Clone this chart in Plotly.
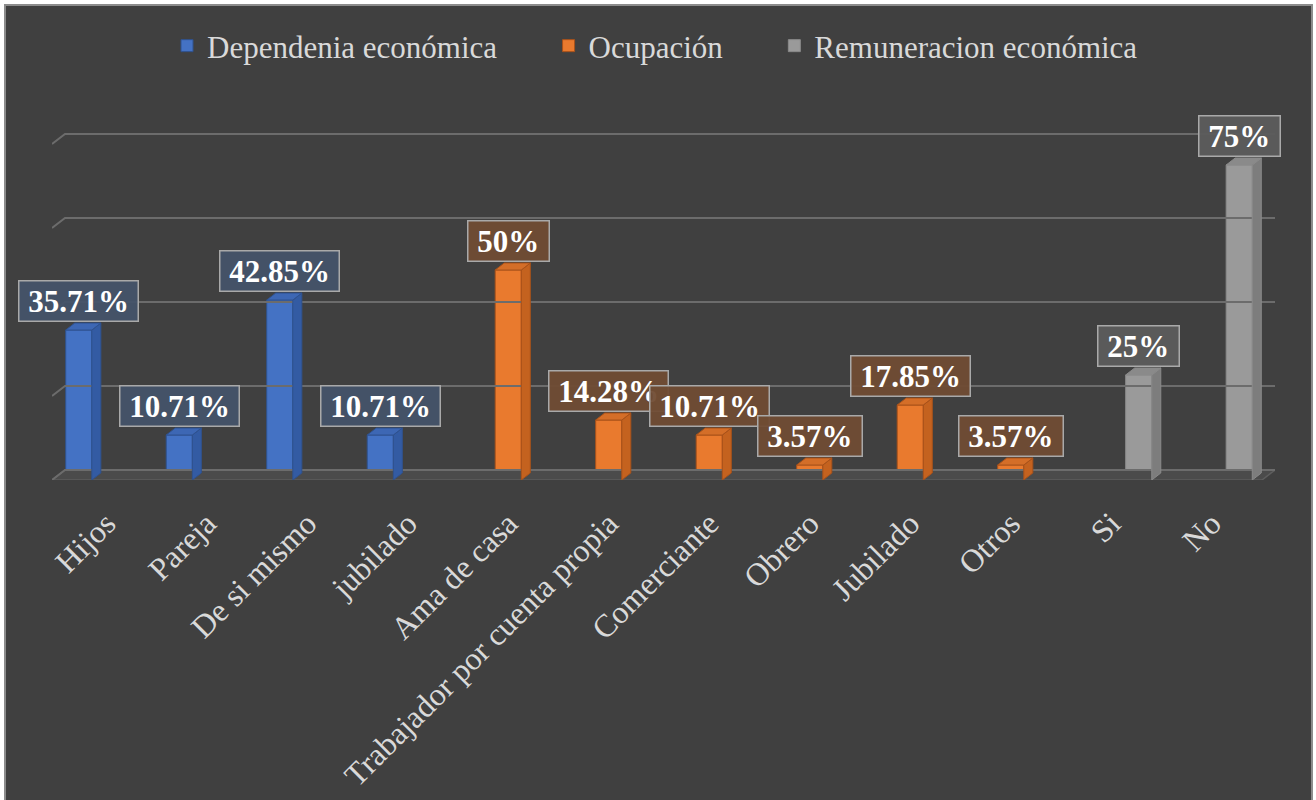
import plotly.graph_objects as go

# ---------------- data ----------------
categories = ["Hijos", "Pareja", "De si mismo", "jubilado", "Ama de casa",
              "Trabajador por cuenta propia", "Comerciante", "Obrero",
              "Jubilado", "Otros", "Si", "No"]

series_names = ["Dependenia económica", "Ocupación", "Remuneracion económica"]

dependencia_idx = [0, 1, 2, 3]
dependencia_vals = [35.71, 10.71, 42.85, 10.71]

ocupacion_idx = [4, 5, 6, 7, 8, 9]
ocupacion_vals = [50, 14.28, 10.71, 3.57, 17.85, 3.57]

remuneracion_idx = [10, 11]
remuneracion_vals = [25, 75]

grid_vals = [0, 20, 40, 60, 80]

# ---------------- style ----------------
W, H = 1316, 800
ML, MR, MT, MB = 52, 41, 128, 320
PX_PER_CAT = 100.5
PX_PER_PCT = 4.2
BG = "#404040"
TXT = "#d9d9d9"
FONT = "Liberation Serif, Times New Roman, serif"
LEGEND_PAD = "\u00a0" * 6

BARGAP, GROUPGAP = 0.18, 0.05
slot = (1 - BARGAP) / 3
half = slot * (1 - GROUPGAP) / 2
DX, DY = 9 / PX_PER_CAT, 7 / PX_PER_PCT          # bar depth
GDX, GDY = 13 / PX_PER_CAT, 10 / PX_PER_PCT      # wall depth

x0 = -0.5 - 4 / PX_PER_CAT
x1 = x0 + (W - ML - MR) / PX_PER_CAT
y1 = (H - MT - MB) / PX_PER_PCT

styles = [
    dict(front="#4472C4", side="#335ba3", top="#3d67b4", edge="#2F528F",
         box="rgba(68,84,106,0.92)"),
    dict(front="#E97A2E", side="#c4621f", top="#d46e28", edge="#A9521A",
         box="rgba(112,76,52,0.95)"),
    dict(front="#9a9a9a", side="#7d7d7d", top="#8a8a8a", edge="#8a8a8a",
         box="rgba(92,92,92,0.95)"),
]

data = [(dependencia_idx, dependencia_vals),
        (ocupacion_idx, ocupacion_vals),
        (remuneracion_idx, remuneracion_vals)]

fig = go.Figure()

# floor
fig.add_trace(go.Scatter(
    x=[x0, 11.5, x1, x0 + GDX, x0], y=[0, 0, GDY, GDY, 0],
    fill="toself", fillcolor="#4b4b4b", mode="lines",
    line=dict(color="#5e5e5e", width=1.5), showlegend=False, hoverinfo="skip"))

# gridlines on the back wall
for t in grid_vals:
    fig.add_trace(go.Scatter(
        x=[x0, x0 + GDX, x1], y=[t, t + GDY, t + GDY], mode="lines",
        line=dict(color="#6c6c6c", width=2), showlegend=False, hoverinfo="skip"))

# front faces of the bars
for k, (name, (xs, vs)) in enumerate(zip(series_names, data)):
    st = styles[k]
    off = (k - 1) * slot
    fig.add_trace(go.Bar(
        x=xs, y=vs, name=name + LEGEND_PAD,
        width=2 * half, offset=off - half,
        marker=dict(color=st["front"], line=dict(color=st["edge"], width=1)),
        hovertemplate=name + ": %{y}%<extra></extra>"))

# side and top faces (3D look) + data labels
annotations = []
for k, (xs, vs) in enumerate(data):
    st = styles[k]
    off = (k - 1) * slot
    for xi, v in zip(xs, vs):
        c = xi + off
        r, l = c + half, c - half
        fig.add_trace(go.Scatter(
            x=[r, r + DX, r + DX, r, r], y=[0, DY, v + DY, v, 0],
            fill="toself", fillcolor=st["side"], mode="lines",
            line=dict(color=st["edge"], width=1), showlegend=False,
            hoverinfo="skip"))
        fig.add_trace(go.Scatter(
            x=[l, r, r + DX, l + DX, l], y=[v, v, v + DY, v + DY, v],
            fill="toself", fillcolor=st["top"], mode="lines",
            line=dict(color=st["edge"], width=1), showlegend=False,
            hoverinfo="skip"))
        annotations.append(dict(
            x=c, y=v, xref="x", yref="y", yanchor="bottom", xanchor="center",
            yshift=8, showarrow=False,
            text="\u00a0" + f"{v:g}%" + "\u00a0",
            font=dict(family=FONT, size=31, color="white", weight="bold"),
            bgcolor=st["box"], bordercolor="#a9a9a9", borderwidth=1.5,
            borderpad=1, height=37, valign="middle"))

pw = W - ML - MR
ph = H - MT - MB
def px_x(p):
    return (p - ML) / pw
def px_y(p):
    return (H - MB - p) / ph

fig.update_layout(
    width=W, height=H,
    margin=dict(l=ML, r=MR, t=MT, b=MB, pad=0, autoexpand=False),
    paper_bgcolor="white", plot_bgcolor=BG,
    barmode="overlay",
    font=dict(family=FONT, color=TXT),
    showlegend=True,
    legend=dict(orientation="h", x=px_x(678), xanchor="center",
                y=px_y(46), yanchor="middle",
                font=dict(family=FONT, size=31, color=TXT),
                bgcolor="rgba(0,0,0,0)", itemwidth=30, traceorder="normal"),
    xaxis=dict(range=[x0, x1], tickvals=list(range(len(categories))),
               ticktext=categories, tickangle=-45, automargin=False,
               tickfont=dict(family=FONT, size=32, color=TXT),
               showgrid=False, zeroline=False, showline=False,
               ticks="outside", ticklen=11, tickcolor="rgba(0,0,0,0)"),
    yaxis=dict(range=[0, y1], showgrid=False, zeroline=False, automargin=False,
               showticklabels=False, showline=False),
    annotations=annotations,
    shapes=[dict(type="rect", xref="paper", yref="paper", layer="below",
                 x0=px_x(5), x1=px_x(1312), y0=px_y(812), y1=px_y(5),
                 fillcolor=BG, line=dict(color="#8c8c8c", width=2))],
    hovermode="closest",
)

fig.write_html("out.html",
               config={"displayModeBar": False},
               post_script="document.body.style.margin='0';"
                           "document.body.style.overflow='hidden';")
